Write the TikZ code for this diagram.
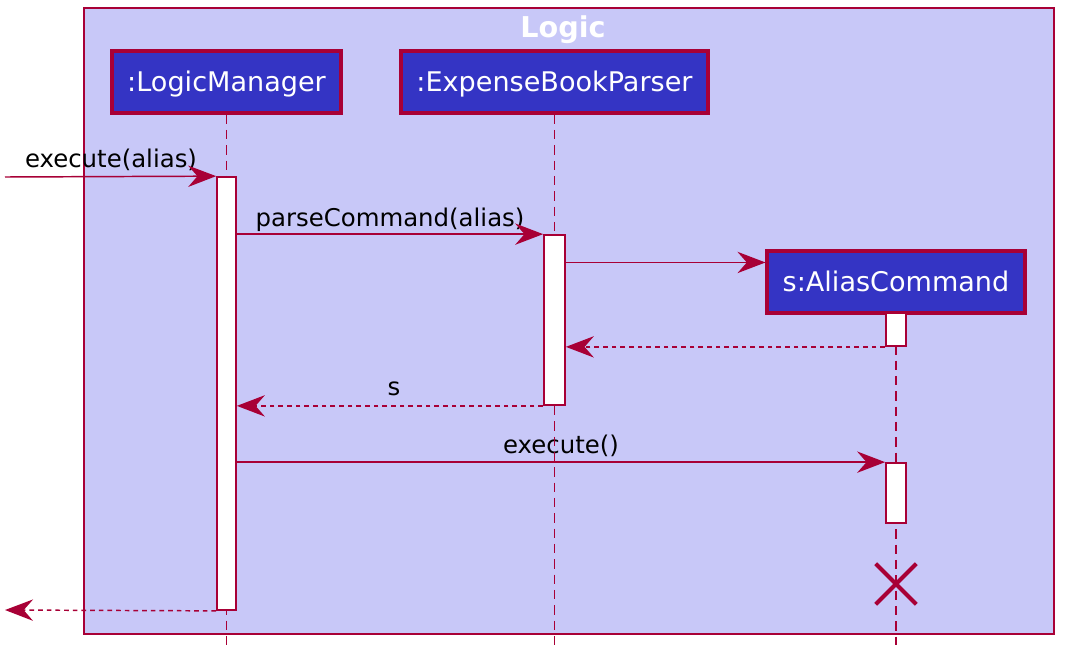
\documentclass[tikz,border=0pt]{standalone}
\usepackage{fontspec}
\setmainfont{DejaVu Sans}
\usetikzlibrary{arrows.meta,calc}
\definecolor{crim}{HTML}{A80036}
\definecolor{lav}{HTML}{C8C8F8}
\definecolor{pblue}{HTML}{3434C4}
\tikzset{
  part/.style={draw=crim, line width=2.3pt, fill=pblue, text=white, inner sep=0pt,
    text height=15pt, text depth=0.2pt,
    font=\fontsize{20.3}{24}\selectfont},
  actbar/.style={draw=crim, line width=1.3pt, fill=white, inner sep=0pt},
  lifeline/.style={draw=crim, line width=1.1pt, dash pattern=on 7pt off 4.5pt},
  msg/.style={draw=crim, line width=1.1pt, -{Stealth[length=21pt,width=16pt,inset=7pt]}},
  ret/.style={msg, dash pattern=on 3.5pt off 3pt},
  lbl/.style={anchor=base, inner sep=0pt, font=\fontsize{18.3}{22}\selectfont},
}
\begin{document}
\begin{tikzpicture}[x=0.75pt,y=-0.75pt]
\useasboundingbox (0,0) rectangle (1073,668);
% frame
\node[draw=crim, line width=1.6pt, fill=lav, minimum width=970*0.75pt, minimum height=626*0.75pt, inner sep=0pt] (frame) at (569,321) {};
\node[text=white, font=\fontsize{21.5}{25}\selectfont\bfseries, anchor=base] (title) at (563,37) {Logic};
% participants
\node[part, minimum width=229*0.75pt, minimum height=62*0.75pt] (lm) at (226.5,82) {:LogicManager};
\node[part, minimum width=307*0.75pt, minimum height=62*0.75pt] (ebp) at (554.5,82) {:ExpenseBookParser};
% labels
\node[lbl] (l1) at (111,167) {execute(alias)};
\node[lbl] (l2) at (390,226) {parseCommand(alias)};
\node[lbl] (l3) at (394,395) {s};
\node[lbl] (l4) at (561,453) {execute()};
% lifeline ends
\coordinate (lmend) at (226.5,645);
\coordinate (ebpend) at (554.5,645);
\coordinate (acend) at (896,645);
\draw[lifeline] (lm.south) -- (lmend);
\draw[lifeline] (ebp.south) -- (ebpend);
\node[part, minimum width=258*0.75pt, minimum height=62*0.75pt] (ac) at (896,282) {s:AliasCommand};
\draw[lifeline] (ac.south) -- (acend);
% activation bars
\node[actbar, minimum width=19*0.75pt, minimum height=433*0.75pt] (lmact) at (226.5,393.5) {};
\node[actbar, minimum width=21*0.75pt, minimum height=170*0.75pt] (ebpact) at (554.5,320) {};
\node[actbar, minimum width=20*0.75pt, minimum height=33*0.75pt] (ac1) at (896,329.5) {};
\node[actbar, minimum width=20*0.75pt, minimum height=60*0.75pt] (ac2) at (896,493) {};
% destroy
\node[inner sep=0pt, minimum size=40*0.75pt] (xm) at (896,584) {};
\draw[crim, line width=3pt] (xm.north west) -- (xm.south east) (xm.north east) -- (xm.south west);
% messages
\coordinate (in) at (5,177);
\coordinate (out) at (5,610);
\coordinate (crt) at ($(ac.north west)+(0,13)$);
\draw[msg] (in) -- (lmact.north west);
\draw[msg] (lmact.east |- ebpact.north) -- (ebpact.north west);
\draw[msg] (ebpact.east |- crt) -- (crt);
\draw[ret] (ac1.south west) -- (ebpact.east |- ac1.south);
\draw[ret] (ebpact.south west) -- (lmact.east |- ebpact.south);
\draw[msg] (lmact.east |- ac2.north) -- (ac2.north west);
\draw[ret] (lmact.south west) -- (out);
\end{tikzpicture}
\end{document}
